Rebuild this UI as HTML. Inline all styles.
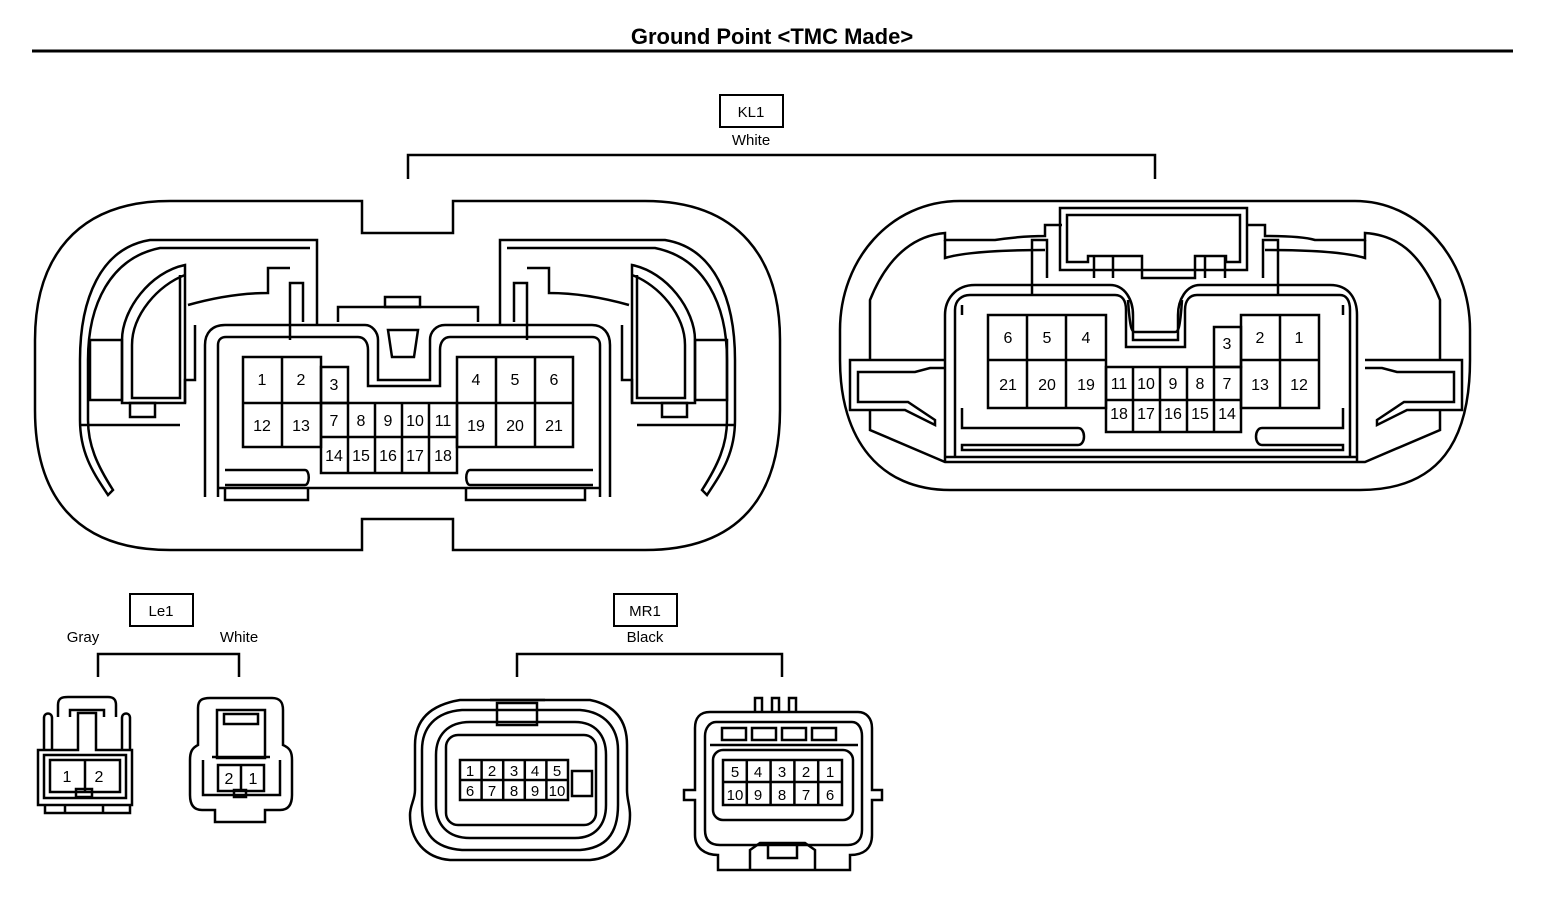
<!DOCTYPE html>
<html><head><style>
html,body{margin:0;padding:0;background:#fff;}
svg{display:block;}
text{font-family:"Liberation Sans",sans-serif;fill:#000;}
</style></head><body>
<svg width="1568" height="900" viewBox="0 0 1568 900" xmlns="http://www.w3.org/2000/svg">
<g fill="none" stroke="#000" stroke-width="2.5" stroke-linejoin="miter">
<line x1="32" y1="51" x2="1513" y2="51" stroke-width="3"/>
<rect x="720" y="95" width="63" height="32" stroke-width="2"/>
<polyline points="408,179 408,155 1155,155 1155,179"/>
<path d="M170,201 H362 V233 H453 V201 H645 C740,201 780,260 780,340 V410 C780,495 740,550 645,550 H453 V519 H362 V550 H170 C75,550 35,495 35,410 V340 C35,260 75,201 170,201 Z"/>
<path d="M317,325 V240 H150 C100,248 80,300 80,360 V420 C80,455 95,475 108,495 L113,490 C97,465 88,445 88,420 V360 C88,305 110,258 160,248 H310"/>
<path d="M500,325 V240 H665 C715,248 735,300 735,360 V420 C735,455 720,475 707,495 L702,490 C718,465 727,445 727,420 V360 C727,305 705,258 655,248 H507"/>
<path d="M185,265 C150,272 122,310 122,340 V403 H185 Z"/>
<path d="M185,275 C158,285 132,315 132,345 V398 H180 V275"/>
<rect x="90" y="340" width="32" height="60"/>
<rect x="130" y="403" width="25" height="14"/>
<line x1="80" y1="425" x2="180" y2="425"/>
<path d="M188,305 C220,296 245,293 268,293 V268 H290"/>
<path d="M185,403 V380 H195 V325"/>
<path d="M632,265 C667,272 695,310 695,340 V403 H632 Z"/>
<path d="M632,275 C659,285 685,315 685,345 V398 H637 V275"/>
<rect x="695" y="340" width="32" height="60"/>
<rect x="662" y="403" width="25" height="14"/>
<line x1="637" y1="425" x2="735" y2="425"/>
<path d="M629,305 C597,296 572,293 549,293 V268 H527"/>
<path d="M632,403 V380 H622 V325"/>
<polyline points="290,340 290,283 303,283 303,322"/>
<polyline points="527,340 527,283 514,283 514,322"/>
<polyline points="338,322 338,307 478,307 478,322"/>
<rect x="385" y="297" width="35" height="10"/>
<path d="M205,497 V345 C205,333 212,325 225,325 H365 C372,325 378,332 378,340 V380 H430 V340 C430,332 436,325 445,325 H592 C603,325 610,333 610,345 V497"/>
<path d="M218,497 V345 C218,340 221,337 226,337 H358 C364,337 368,342 368,350 V386 H440 V350 C440,342 444,337 450,337 H592 C597,337 600,340 600,345 V497"/>
<path d="M388,330 H418 L414,357 H392 Z"/>
<path d="M218,488 H600 M225,488 V500 H308 V488 M466,488 V500 H585 V488"/>
<path d="M225,470 H305 C310,470 310,485 305,485 H225"/>
<path d="M593,470 H470 C465,470 465,485 470,485 H593"/>
<rect x="243" y="357" width="78" height="90"/>
<line x1="282" y1="357" x2="282" y2="447"/><line x1="243" y1="403" x2="321" y2="403"/>
<rect x="321" y="367" width="27" height="36"/>
<rect x="321" y="403" width="136" height="70"/>
<line x1="321" y1="437" x2="457" y2="437"/>
<line x1="348" y1="403" x2="348" y2="473"/><line x1="375" y1="403" x2="375" y2="473"/><line x1="402" y1="403" x2="402" y2="473"/><line x1="429" y1="403" x2="429" y2="473"/>
<rect x="457" y="357" width="116" height="90"/>
<line x1="496" y1="357" x2="496" y2="447"/><line x1="535" y1="357" x2="535" y2="447"/><line x1="457" y1="403" x2="573" y2="403"/>

<path d="M960,201 H1355 C1420,201 1470,260 1470,330 V360 C1470,440 1440,490 1360,490 H950 C880,490 840,440 840,360 V330 C840,260 890,201 960,201 Z"/>
<path d="M870,360 V300 C890,250 920,235 945,233 V240 H995 C1015,237 1035,236 1045,236 V225 H1062 M1247,225 H1265 V236 C1285,236 1305,237 1315,240 H1365 V233 C1395,235 1420,250 1440,300 V360"/>
<path d="M945,240 V258 C965,252 1000,250 1045,250"/>
<path d="M1365,240 V258 C1345,252 1310,250 1265,250"/>
<path d="M870,410 V430 L945,462 H1365 L1440,430 V410"/>
<rect x="1060" y="208" width="187" height="62"/>
<path d="M1067,262 V215 H1240 V262 H1226 V256 H1195 V278 H1142 V256 H1088 V262 Z"/>
<line x1="1094" y1="256" x2="1094" y2="278"/><line x1="1113" y1="256" x2="1113" y2="278"/>
<line x1="1205" y1="256" x2="1205" y2="278"/><line x1="1225" y1="256" x2="1225" y2="278"/>
<polyline points="1032,295 1032,240 1047,240 1047,278"/>
<polyline points="1278,295 1278,240 1263,240 1263,278"/>
<path d="M945,462 V315 C945,300 955,285 975,285 H1110 C1125,285 1133,300 1133,315 V340 H1178 V315 C1178,300 1186,285 1200,285 H1330 C1350,285 1357,300 1357,315 V462"/>
<path d="M955,457 V310 C955,300 962,295 970,295 H1115 C1122,295 1126,300 1126,310 V347 H1185 V310 C1185,300 1190,295 1197,295 H1340 C1346,295 1350,300 1350,310 V457"/>
<path d="M1128,300 C1130,330 1132,332 1135,332 H1175 C1178,332 1180,330 1182,300"/>
<path d="M962,305 V315 M1343,305 V315"/>
<path d="M962,408 V428 H1078 C1086,428 1086,445 1078,445 H962 V450 H1343 V445 H1262 C1254,445 1254,428 1262,428 H1343 V408"/>
<line x1="945" y1="457" x2="1357" y2="457"/>
<path d="M945,360 H850 V410 H905 L935,425 L935,420 L908,402 H858 V372 H915 L930,368 H945"/>
<path d="M1365,360 H1462 V410 H1407 L1377,425 L1377,420 L1404,402 H1454 V372 H1397 L1382,368 H1365"/>
<rect x="988" y="315" width="118" height="93"/>
<line x1="1027" y1="315" x2="1027" y2="408"/><line x1="1066" y1="315" x2="1066" y2="408"/><line x1="988" y1="360" x2="1106" y2="360"/>
<rect x="1106" y="367" width="135" height="65"/>
<line x1="1106" y1="400" x2="1241" y2="400"/>
<line x1="1133" y1="367" x2="1133" y2="432"/><line x1="1160" y1="367" x2="1160" y2="432"/><line x1="1187" y1="367" x2="1187" y2="432"/><line x1="1214" y1="367" x2="1214" y2="432"/>
<rect x="1214" y="327" width="27" height="40"/>
<rect x="1241" y="315" width="78" height="93"/>
<line x1="1280" y1="315" x2="1280" y2="408"/><line x1="1241" y1="360" x2="1319" y2="360"/>

<rect x="130" y="594" width="63" height="32" stroke-width="2"/>
<polyline points="98,677 98,654 239,654 239,677"/>
<path d="M58,717 V705 C58,698 62,697 68,697 H108 C114,697 116,700 116,705 V717"/>
<path d="M70,717 V710 H104 V717"/>
<path d="M44,750 V718 C44,712 52,712 52,718 V750 M130,750 V718 C130,712 122,712 122,718 V750"/>
<path d="M38,750 V805 H132 V750 H96 V713 H78 V750 Z"/>
<path d="M44,755 H126 V798 H44 Z"/>
<rect x="50" y="760" width="70" height="32"/>
<line x1="85" y1="760" x2="85" y2="792"/>
<rect x="76" y="789" width="16" height="8"/>
<path d="M45,805 V813 H130 V805 M65,805 V813 M103,805 V813"/>
<path d="M198,745 V708 C198,700 202,698 210,698 H272 C280,698 283,702 283,710 V745 C290,748 292,752 292,760 V795 C292,805 288,810 280,810 H265 V822 H215 V810 H202 C194,810 190,805 190,795 V760 C190,752 192,748 198,745 Z"/>
<rect x="217" y="710" width="48" height="48"/>
<rect x="224" y="714" width="34" height="10"/>
<path d="M212,757 H270 M203,760 V795 H280 V760"/>
<rect x="218" y="765" width="46" height="26"/>
<line x1="241" y1="765" x2="241" y2="791"/>
<rect x="234" y="790" width="12" height="7"/>

<rect x="614" y="594" width="63" height="32" stroke-width="2"/>
<polyline points="517,677 517,654 782,654 782,677"/>
<path d="M460,700 H590 C615,705 627,720 627,745 V790 C627,800 630,805 630,815 C630,840 615,858 590,860 H450 C425,858 410,840 410,815 C410,805 415,800 415,790 V745 C415,720 430,705 460,700 Z"/>
<path d="M462,710 H580 C605,712 618,728 618,750 V805 C618,835 605,848 580,850 H462 C435,848 422,835 422,805 V750 C422,728 435,712 462,710 Z"/>
<path d="M470,722 H575 C595,722 606,735 606,755 V805 C606,825 595,838 575,838 H470 C448,838 436,825 436,805 V755 C436,735 448,722 470,722 Z"/>
<rect x="446" y="735" width="150" height="90" rx="12"/>
<rect x="497" y="703" width="40" height="22"/>
<line x1="490" y1="700" x2="545" y2="700"/>
<rect x="460" y="760" width="108" height="40"/>
<line x1="460" y1="780" x2="568" y2="780"/>
<line x1="481.6" y1="760" x2="481.6" y2="800"/><line x1="503.2" y1="760" x2="503.2" y2="800"/><line x1="524.8" y1="760" x2="524.8" y2="800"/><line x1="546.4" y1="760" x2="546.4" y2="800"/>
<rect x="572" y="771" width="20" height="25"/>
<path d="M710,712 H858 C866,712 872,718 872,728 V790 H882 V800 H872 V835 C872,850 862,855 850,855 V870 H718 V855 C705,855 695,848 695,835 V800 H684 V790 H695 V728 C695,718 700,712 710,712 Z"/>
<path d="M716,722 H852 C858,722 862,728 862,736 V830 C862,840 856,845 848,845 H720 C710,845 705,840 705,830 V736 C705,728 710,722 716,722 Z"/>
<path d="M710,745 H858"/>
<rect x="722" y="728" width="24" height="12"/><rect x="752" y="728" width="24" height="12"/><rect x="782" y="728" width="24" height="12"/><rect x="812" y="728" width="24" height="12"/>
<rect x="713" y="750" width="140" height="70" rx="10"/>
<rect x="723" y="760" width="119" height="45"/>
<line x1="723" y1="782" x2="842" y2="782"/>
<line x1="746.8" y1="760" x2="746.8" y2="805"/><line x1="770.6" y1="760" x2="770.6" y2="805"/><line x1="794.4" y1="760" x2="794.4" y2="805"/><line x1="818.2" y1="760" x2="818.2" y2="805"/>
<path d="M755,712 V698 H762 V712 M772,712 V698 H779 V712 M789,712 V698 H796 V712"/>
<path d="M750,870 V850 L760,843 H805 L815,850 V870 M768,843 V858 H797 V843"/>
</g>

<g font-size="16">
<text x="772" y="44" text-anchor="middle" font-weight="bold" font-size="22">Ground Point &lt;TMC Made&gt;</text>
<text x="751" y="117" text-anchor="middle" font-size="15">KL1</text>
<text x="751" y="145" text-anchor="middle" font-size="15">White</text>
<text x="161" y="616" text-anchor="middle" font-size="15">Le1</text>
<text x="83" y="642" text-anchor="middle" font-size="15">Gray</text>
<text x="239" y="642" text-anchor="middle" font-size="15">White</text>
<text x="645" y="616" text-anchor="middle" font-size="15">MR1</text>
<text x="645" y="642" text-anchor="middle" font-size="15">Black</text>
</g>
<g font-size="16" text-anchor="middle">
<text x="262" y="385">1</text><text x="301" y="385">2</text><text x="334" y="390">3</text>
<text x="476" y="385">4</text><text x="515" y="385">5</text><text x="554" y="385">6</text>
<text x="262" y="431">12</text><text x="301" y="431">13</text>
<text x="334" y="426">7</text><text x="361" y="426">8</text><text x="388" y="426">9</text><text x="415" y="426">10</text><text x="443" y="426">11</text>
<text x="334" y="461">14</text><text x="361" y="461">15</text><text x="388" y="461">16</text><text x="415" y="461">17</text><text x="443" y="461">18</text>
<text x="476" y="431">19</text><text x="515" y="431">20</text><text x="554" y="431">21</text>

<text x="1008" y="343">6</text><text x="1047" y="343">5</text><text x="1086" y="343">4</text>
<text x="1008" y="390">21</text><text x="1047" y="390">20</text><text x="1086" y="390">19</text>
<text x="1119" y="389">11</text><text x="1146" y="389">10</text><text x="1173" y="389">9</text><text x="1200" y="389">8</text><text x="1227" y="389">7</text>
<text x="1119" y="419">18</text><text x="1146" y="419">17</text><text x="1173" y="419">16</text><text x="1200" y="419">15</text><text x="1227" y="419">14</text>
<text x="1227" y="349">3</text>
<text x="1260" y="343">2</text><text x="1299" y="343">1</text>
<text x="1260" y="390">13</text><text x="1299" y="390">12</text>

<text x="67" y="782">1</text><text x="99" y="782">2</text>
<text x="229" y="784">2</text><text x="253" y="784">1</text>

<text x="470" y="776" font-size="15">1</text><text x="492" y="776" font-size="15">2</text><text x="514" y="776" font-size="15">3</text><text x="535" y="776" font-size="15">4</text><text x="557" y="776" font-size="15">5</text>
<text x="470" y="796" font-size="15">6</text><text x="492" y="796" font-size="15">7</text><text x="514" y="796" font-size="15">8</text><text x="535" y="796" font-size="15">9</text><text x="557" y="796" font-size="15">10</text>
<text x="735" y="777" font-size="15">5</text><text x="758" y="777" font-size="15">4</text><text x="782" y="777" font-size="15">3</text><text x="806" y="777" font-size="15">2</text><text x="830" y="777" font-size="15">1</text>
<text x="735" y="800" font-size="15">10</text><text x="758" y="800" font-size="15">9</text><text x="782" y="800" font-size="15">8</text><text x="806" y="800" font-size="15">7</text><text x="830" y="800" font-size="15">6</text>
</g>
</svg>
</body></html>
